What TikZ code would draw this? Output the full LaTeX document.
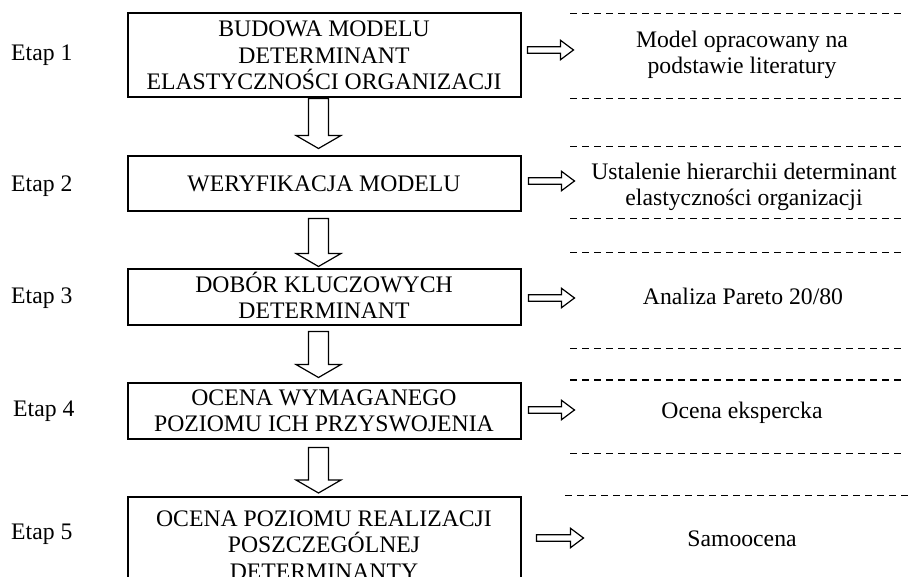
\documentclass[tikz,border=0pt]{standalone}
\usepackage{fontspec}
\setmainfont{Liberation Serif}
\usetikzlibrary{calc}
\newcommand\dgfont{\fontsize{23.7pt}{26.3pt}\selectfont}
\tikzset{
  box/.style={draw, line width=2pt, minimum width=393pt, inner sep=2pt, align=center, font=\dgfont},
  lbl/.style={inner sep=0pt, font=\dgfont},
  rtxt/.style={inner sep=0pt, align=center, font=\dgfont},
  dashline/.style={line width=1.3pt, dash pattern=on 7pt off 5pt},
  dnarrow/.style={draw, line width=1.2pt, to path={
    let \p1=(\tikztostart), \p2=(\tikztotarget) in
    (\x1-10pt,\y1) -- (\x1+10pt,\y1) -- (\x1+10pt,\y2+13pt) -- (\x1+22.5pt,\y2+13pt)
    -- (\x1,\y2) -- (\x1-22.5pt,\y2+13pt) -- (\x1-10pt,\y2+13pt) -- cycle}},
  rtarrow/.style={draw, line width=1.2pt, to path={
    let \p1=(\tikztostart), \p2=(\tikztotarget) in
    (\x1,\y1+3.2pt) -- (\x2-13pt,\y1+3.2pt) -- (\x2-13pt,\y1+9.7pt) -- (\x2,\y1)
    -- (\x2-13pt,\y1-9.7pt) -- (\x2-13pt,\y1-3.2pt) -- (\x1,\y1-3.2pt) -- cycle}},
}
\begin{document}
\begin{tikzpicture}[x=1pt, y=-1pt]
\useasboundingbox (0,0) rectangle (908,577);
\clip (0,0) rectangle (908,577);
\fill[white] (0,0) rectangle (908,577);

% stage labels
\node[lbl, anchor=base west] (e1) at (11,61)  {Etap 1};
\node[lbl, anchor=base west] (e2) at (11,192) {Etap 2};
\node[lbl, anchor=base west] (e3) at (11,304) {Etap 3};
\node[lbl, anchor=base west] (e4) at (13,417) {Etap 4};
\node[lbl, anchor=base west] (e5) at (11,539) {Etap 5};

% main boxes
\node[box, minimum height=84pt] (b1) at (324,55.5)
  {BUDOWA MODELU\\DETERMINANT\\ELASTYCZNOŚCI ORGANIZACJI};
\node[box, minimum height=55pt] (b2) at (324,184) {WERYFIKACJA MODELU};
\node[box, minimum height=56pt] (b3) at (324,297.5)
  {DOB\smash{Ó}R KLUCZOWYCH\\DETERMINANT};
\node[box, minimum height=55pt] (b4) at (324,411)
  {OCENA WYMAGANEGO\\POZIOMU ICH PRZYSWOJENIA};
\node[box, minimum height=96pt] (b5) at (324,545)
  {OCENA POZIOMU REALIZACJI\\POSZCZEGÓLNEJ\\DETERMINANTY};

% right side texts
\node[rtxt] (r1) at (742,55) {Model opracowany na\\podstawie literatury};
\node[rtxt] (r2) at (744,186.5) {Ustalenie hierarchii determinant\\elastyczności organizacji};
\node[rtxt, anchor=base] (r3) at (743,305) {Analiza Pareto 20/80};
\node[rtxt, anchor=base] (r4) at (742,418) {Ocena ekspercka};
\node[rtxt, anchor=base] (r5) at (742,546) {Samoocena};

% dashed separators
\draw[dashline] (570,13.3) -- (903,13.3);
\draw[dashline] (570,98.3) -- (903,98.3);
\draw[dashline] (570,146.7) -- (903,146.7);
\draw[dashline] (570,218.3) -- (903,218.3);
\draw[dashline] (570,252.7) -- (903,252.7);
\draw[dashline] (570,348.3) -- (903,348.3);
\draw[dashline] (570,380) -- (903,380);
\draw[dashline] (570,453.3) -- (903,453.3);
\draw[dashline] (565,495.7) -- (908,495.7);

% down block arrows
\draw[dnarrow] ($(b1.south)+(-5.5,0)$) to ($(b2.north)+(-5.5,-7)$);
\draw[dnarrow] ($(b2.south)+(-5.5,6)$) to ($(b3.north)+(-5.5,-2)$);
\draw[dnarrow] ($(b3.south)+(-5.5,5)$) to ($(b4.north)+(-5.5,-5)$);
\draw[dnarrow] ($(b4.south)+(-5.5,8)$) to ($(b5.north)+(-5.5,-3)$);

% right block arrows
\draw[rtarrow] ($(b1.east)+(6,-5.5)$) to ($(b1.east)+(52,-5.5)$);
\draw[rtarrow] ($(b2.east)+(7,-3)$) to ($(b2.east)+(53,-3)$);
\draw[rtarrow] ($(b3.east)+(7,0.5)$) to ($(b3.east)+(53,0.5)$);
\draw[rtarrow] ($(b4.east)+(7,-1)$) to ($(b4.east)+(53,-1)$);
\draw[rtarrow] ($(b5.east)+(15,-7)$) to ($(b5.east)+(62,-7)$);
\end{tikzpicture}
\end{document}
